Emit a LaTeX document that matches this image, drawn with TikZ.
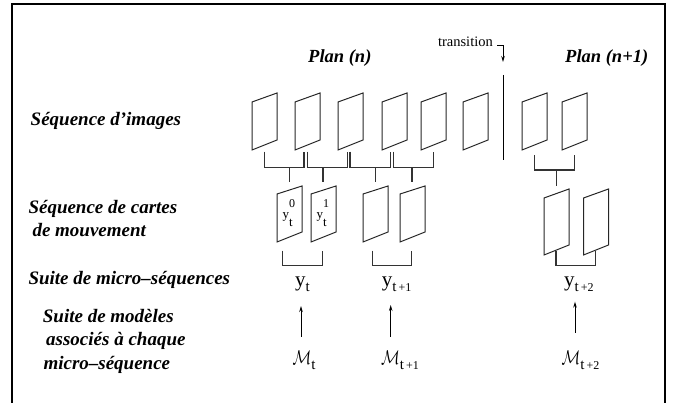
\documentclass[tikz,border=0pt]{standalone}
\usepackage{fontspec}
\setmainfont{Liberation Serif}
\usetikzlibrary{arrows.meta}
\tikzset{
  rowlabel/.style={anchor=base west,inner sep=0pt,font=\fontsize{19}{23}\selectfont\bfseries\itshape},
  planlabel/.style={anchor=base west,inner sep=0pt,font=\fontsize{18.5}{22}\selectfont\bfseries\itshape},
  imgframe/.style={draw=black!85,line width=1pt,line join=miter},
  brace/.style={draw=black!80,line width=1.1pt},
  arr/.style={draw,line width=0.9pt,-{Stealth[length=6pt,width=3.5pt]}},
  symb/.style={anchor=base west,inner sep=0pt},
}
\newcommand\calM{\scalebox{0.9}[1.15]{$\mathcal{M}$}}
\begin{document}
\begin{tikzpicture}[x=1pt,y=-1pt]
\useasboundingbox (0,0) rectangle (681,403);
% outer frame (open at the bottom)
\draw[line width=2pt] (12,404) -- (12,4) -- (665,4) -- (665,404);

% row labels
\node[rowlabel] (r1) at (30.5,126) {Séquence d’images};
\node[rowlabel] (r2a) at (28.3,213.5) {Séquence de cartes};
\node[rowlabel] (r2b) at (32.3,236.5) {de mouvement};
\node[rowlabel] (r3) at (28.3,284.3) {Suite de micro–séquences};
\node[rowlabel] (r4a) at (42.7,322.7) {Suite de modèles};
\node[rowlabel] (r4b) at (46,346) {associés à chaque};
\node[rowlabel] (r4c) at (43.3,369.5) {micro–séquence};

% plan titles
\node[planlabel] (pn) at (308,63) {Plan (n)};
\node[planlabel] (pn1) at (565,63) {Plan (n+1)};

% transition
\node[anchor=base east,inner sep=0pt,font=\fontsize{14.5}{16}\selectfont] (tr) at (493,47) {transition};
\coordinate (trs) at (497,45.5);
\coordinate (trc) at (503,45.5);
\coordinate (tre) at (503,62);
\draw[line width=0.9pt,-{Stealth[length=6pt,width=3.5pt]}] (trs) -- (trc) -- (tre);
\coordinate (cutA) at (503,75);
\coordinate (cutB) at (503,160);
\draw[line width=1pt] (cutA) -- (cutB);

% image frames
\foreach \L in {252,295,338,382,421,463,522,562}
  \draw[imgframe] (\L,102) -- (\L+25,93) -- (\L+25,140) -- (\L,150) -- cycle;

% brackets under images, with stems to the motion maps
\foreach \a/\b/\s in {264.3/304/289.5, 307.3/347.3/323, 350/390.7/375.5, 393.3/433.3/412}
  \draw[brace] (\a,151.7) -- (\a,167.3) -- (\b,167.3) -- (\b,151.7) (\s,167.3) -- (\s,182);
\draw[brace] (534.5,155) -- (534.5,170) -- (574.5,170) -- (574.5,155) (556.5,170) -- (556.5,186);

% motion maps
\foreach \L in {277,311,363,400}
  \draw[imgframe] (\L,194) -- (\L+25,186) -- (\L+25,232) -- (\L,242) -- cycle;
\foreach \L in {544,583.5}
  \draw[imgframe] (\L,198) -- (\L+25,189) -- (\L+25,245) -- (\L,255) -- cycle;

% labels inside the first two maps
\node[symb,font=\fontsize{13}{13}\selectfont] (m0) at (282.5,219) {y\rlap{\raisebox{11pt}{\fontsize{12}{12}\selectfont 0}}\raisebox{-8pt}{t}};
\node[symb,font=\fontsize{13}{13}\selectfont] (m1) at (316.5,219) {y\rlap{\raisebox{11pt}{\fontsize{12}{12}\selectfont 1}}\raisebox{-8pt}{t}};

% brackets under motion maps
\draw[brace] (282.7,250.7) -- (282.7,265.7) -- (322.7,265.7) -- (322.7,250.7);
\draw[brace] (372.3,250.7) -- (372.3,265.7) -- (411.7,265.7) -- (411.7,250.7);
\draw[brace] (556,250.7) -- (556,265.7) -- (595.5,265.7) -- (595.5,250.7);

% micro-sequences
\node[symb,font=\fontsize{21}{21}\selectfont] (yt) at (295,287) {y\raisebox{-5pt}{\fontsize{15}{15}\selectfont t}};
\node[symb,font=\fontsize{21}{21}\selectfont] (yt1) at (381.7,287) {y\raisebox{-5pt}{\fontsize{15}{15}\selectfont t\fontsize{12}{12}\selectfont\,+1}};
\node[symb,font=\fontsize{21}{21}\selectfont] (yt2) at (564,287) {y\raisebox{-5pt}{\fontsize{15}{15}\selectfont t\fontsize{12}{12}\selectfont\,+2}};

% models
\node[symb,font=\fontsize{19}{19}\selectfont] (Mt) at (292.5,365) {\calM\raisebox{-5pt}{\fontsize{15}{15}\selectfont t}};
\node[symb,font=\fontsize{19}{19}\selectfont] (Mt1) at (381,365) {\calM\raisebox{-5pt}{\fontsize{15}{15}\selectfont t\fontsize{12}{12}\selectfont\,+1}};
\node[symb,font=\fontsize{19}{19}\selectfont] (Mt2) at (561.5,365) {\calM\raisebox{-5pt}{\fontsize{15}{15}\selectfont t\fontsize{12}{12}\selectfont\,+2}};

% arrows from models to micro-sequences
\coordinate (a1s) at (301,337);
\coordinate (a1e) at (301,306);
\coordinate (a2s) at (390.7,337);
\coordinate (a2e) at (390.7,305);
\coordinate (a3s) at (575,333);
\coordinate (a3e) at (575,301.7);
\draw[arr] (a1s) -- (a1e);
\draw[arr] (a2s) -- (a2e);
\draw[arr] (a3s) -- (a3e);
\end{tikzpicture}
\end{document}
